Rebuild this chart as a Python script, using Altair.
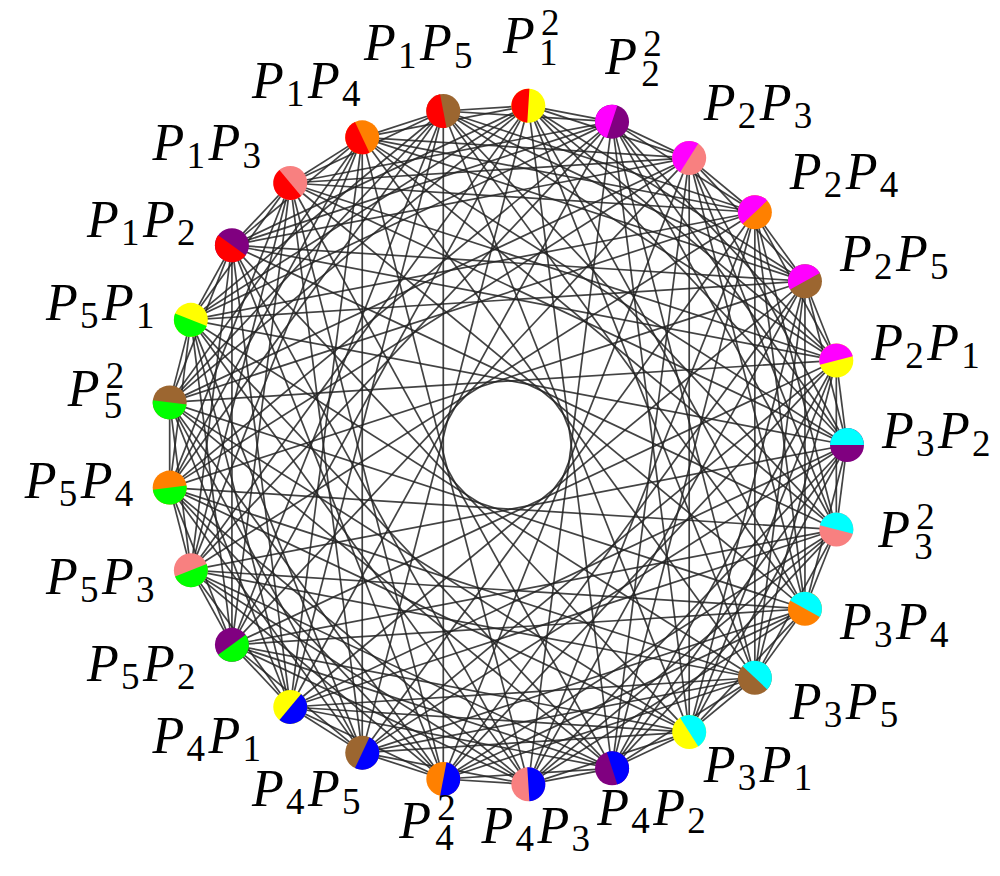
import math
import altair as alt
import pandas as pd

# ---------------- data ----------------
# vertices listed counter-clockwise, starting at the right-most one (P3P2)
node_first  = [3, 2, 2, 2, 2, 2, 1, 1, 1, 1, 1, 5, 5, 5, 5, 5, 4, 4, 4, 4, 4, 3, 3, 3, 3]
node_second = [2, 1, 5, 4, 3, 2, 1, 5, 4, 3, 2, 1, 5, 4, 3, 2, 1, 5, 4, 3, 2, 1, 5, 4, 3]
# colour of P1..P5 as first factor / as second factor
first_colors  = ["#FF0000", "#FF00FF", "#00FFFF", "#0000FF", "#00FF00"]
second_colors = ["#FFFF00", "#800080", "#F88080", "#FF8000", "#9C6630"]
# circulant chord lengths present in the drawing
edge_steps = [1, 2, 4, 5, 6, 8, 9, 11]

# ---------------- layout ----------------
N = len(node_first)
CX, CY, R = 507, 445, 340
D = 34  # node diameter (px)
W, H = 984, 858
SERIF = "'Liberation Serif', 'Times New Roman', 'DejaVu Serif', serif"

def ang(k):
    return math.radians(360.0 * k / N)

nodes = []
for k in range(N):
    t = ang(k)
    deg = math.degrees(t)
    nodes.append(dict(
        x=CX + R * math.cos(t),
        y=CY - R * math.sin(t),
        c1=first_colors[node_first[k] - 1],
        c2=second_colors[node_second[k] - 1],
        rot=(90 - deg) % 360,
    ))
nodes_df = pd.DataFrame(nodes)

edges = []
for k in range(N):
    for s in edge_steps:
        j = (k + s) % N
        edges.append(dict(x1=nodes[k]["x"], y1=nodes[k]["y"],
                          x2=nodes[j]["x"], y2=nodes[j]["y"]))
edges_df = pd.DataFrame(edges)

# label pieces (TeX-like: italic P, roman sub/superscripts)
big, small = [], []
for k in range(N):
    t = ang(k)
    c, s = math.cos(t), math.sin(t)
    a, b = node_first[k], node_second[k]
    square = a == b
    w = 60 if square else 110
    if square:
        dx = max(-72, min(72, 75 * c))
    else:
        dx = max(-90, min(90, 130 * c))
    if s > 0:
        p = 2 if c > 0 else 3
        dy = -10 - 57 * s ** p
    else:
        dy = -10 + 56 * (-s)
    lx = nodes[k]["x"] + dx
    ly = nodes[k]["y"] + dy
    left = lx - w / 2
    base = ly + (14 if square else 13)
    if square:
        big.append(dict(x=left, y=base, t="P"))
        small.append(dict(x=left + 36, y=base + 12, t=str(a)))
        small.append(dict(x=left + 38, y=base - 18, t="2"))
    else:
        big.append(dict(x=left, y=base, t="P"))
        small.append(dict(x=left + 34, y=base + 8, t=str(a)))
        big.append(dict(x=left + 56, y=base, t="P"))
        small.append(dict(x=left + 90, y=base + 8, t=str(b)))
big_df = pd.DataFrame(big)
small_df = pd.DataFrame(small)

xs = alt.Scale(domain=[8, 8 + W], nice=False, zero=False)
ys = alt.Scale(domain=[8 + H, 8], nice=False, zero=False)

edge_layer = alt.Chart(edges_df).mark_rule(color="#222222", strokeWidth=1.7, opacity=0.85).encode(
    x=alt.X("x1:Q", scale=xs, axis=None),
    y=alt.Y("y1:Q", scale=ys, axis=None),
    x2="x2:Q", y2="y2:Q",
)

base_disc = alt.Chart(nodes_df).mark_point(
    filled=True, shape="circle", size=D * D, opacity=1, strokeWidth=0
).encode(
    x=alt.X("x:Q", scale=xs, axis=None),
    y=alt.Y("y:Q", scale=ys, axis=None),
    color=alt.Color("c2:N", scale=None),
)

HALF = "M0,-1 A1,1 0 0,0 0,1 Z"
half_disc = alt.Chart(nodes_df).mark_point(
    filled=True, shape=HALF, size=D * D, opacity=1, strokeWidth=0
).encode(
    x=alt.X("x:Q", scale=xs, axis=None),
    y=alt.Y("y:Q", scale=ys, axis=None),
    color=alt.Color("c1:N", scale=None),
    angle=alt.Angle("rot:Q", scale=None),
)

big_text = alt.Chart(big_df).mark_text(
    font=SERIF, fontStyle="italic", fontSize=52,
    align="left", baseline="alphabetic", color="black"
).encode(
    x=alt.X("x:Q", scale=xs, axis=None),
    y=alt.Y("y:Q", scale=ys, axis=None),
    text="t:N",
)

small_text = alt.Chart(small_df).mark_text(
    font=SERIF, fontSize=37,
    align="left", baseline="alphabetic", color="black"
).encode(
    x=alt.X("x:Q", scale=xs, axis=None),
    y=alt.Y("y:Q", scale=ys, axis=None),
    text="t:N",
)

chart = alt.layer(edge_layer, base_disc, half_disc, big_text, small_text).properties(
    width=W, height=H, autosize="none", padding=0, background="white"
).configure_view(strokeWidth=0)

chart.save("out.html", embed_options={"renderer": "svg", "actions": False})
